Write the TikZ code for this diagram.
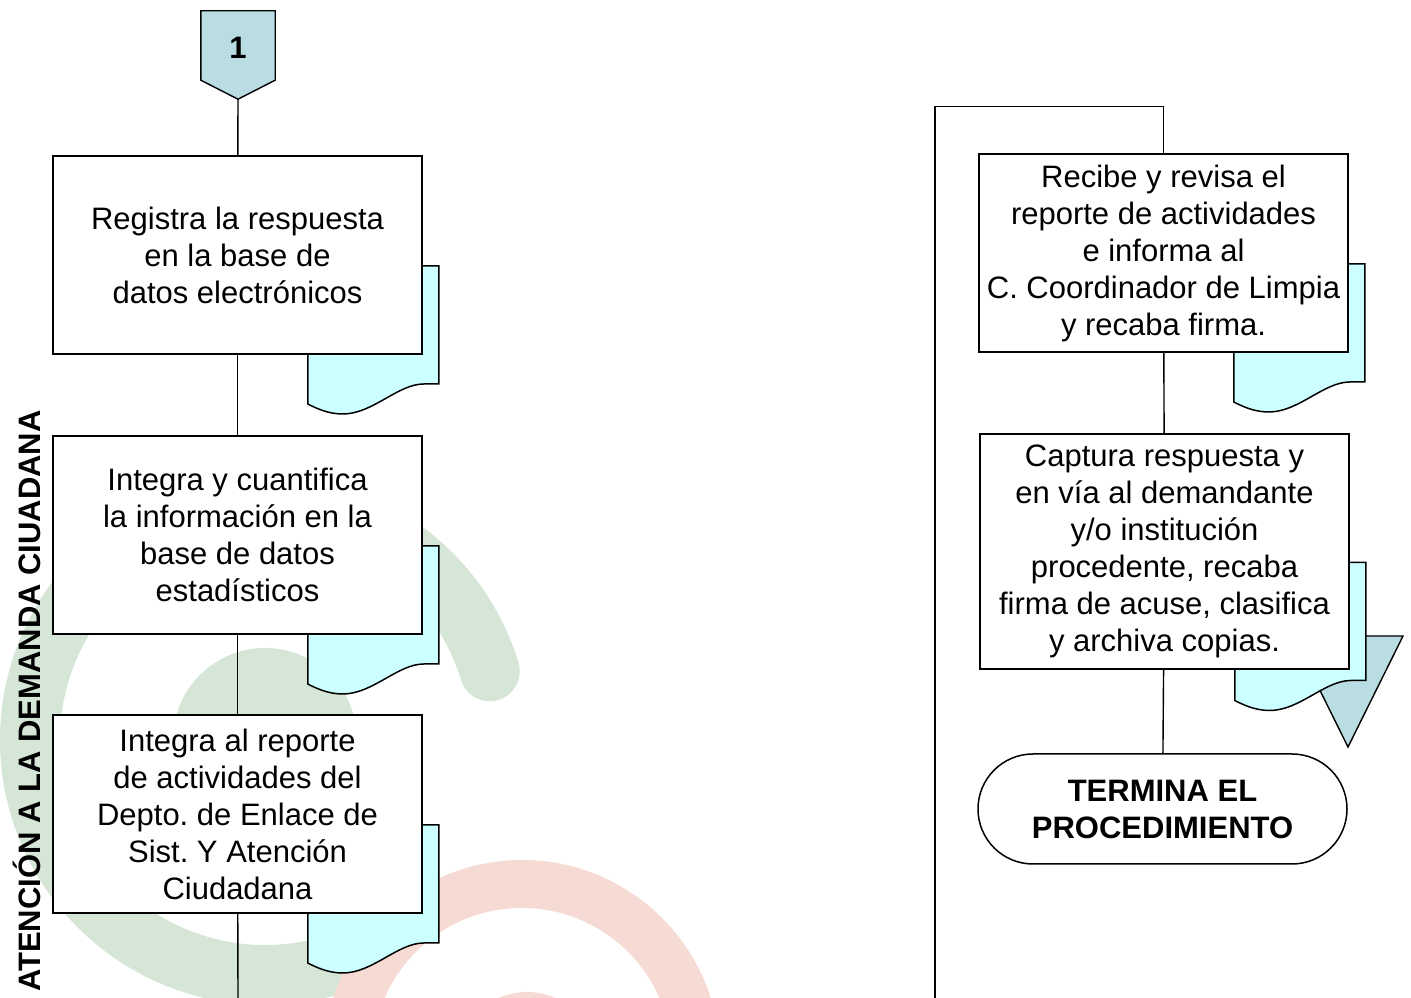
\documentclass[tikz,border=0pt]{standalone}
\usepackage{fontspec}
\setmainfont{Liberation Sans}
\frenchspacing
\usetikzlibrary{shapes.misc,calc}
\definecolor{docfill}{HTML}{CCFFFF}
\definecolor{conblue}{HTML}{B9DDE3}
\definecolor{wmgreen}{HTML}{D6E6D6}
\definecolor{wmred}{HTML}{F6DAD4}
\pgfdeclarelayer{wm}
\pgfdeclarelayer{bg}
\pgfsetlayers{wm,bg,main}
\tikzset{
  proc/.style={draw, fill=white, line width=1.5pt, minimum width=369pt, minimum height=198pt,
    inner sep=0pt, align=center, font=\fontsize{31}{37}\selectfont},
  term/.style={proc, rounded rectangle, minimum height=110pt, font=\fontsize{31}{37}\selectfont\bfseries},
  offpage/.style={minimum width=74pt, minimum height=69pt, inner sep=0pt, font=\fontsize{31}{37}\selectfont\bfseries},
  doc/.style={draw, fill=docfill, line width=1.5pt},
  link/.style={line width=1.4pt},
}
% document symbol behind a box
\newcommand{\docat}[1]{%
  \begin{scope}[shift={($(#1.east)+(-115,-11)$)}]
    \draw[doc] (0,0) -- (131,0) -- (131,-118) -- (116,-118)
      .. controls (90,-118) and (65,-148) .. (35,-148)
      .. controls (20,-148) and (8,-142) .. (0,-138) -- cycle;
  \end{scope}}
\begin{document}
\begin{tikzpicture}[x=1pt,y=1pt]
\useasboundingbox (0,0) rectangle (1411,998);
% watermark
\begin{pgfonlayer}{wm}
  \begin{scope}
    \clip (0,0) rectangle (1411,998);
    \draw[wmgreen, line width=60pt, line cap=round] (265,258) ++(17:235) arc[start angle=17, end angle=288, radius=235];
    \fill[wmgreen] (265,258) circle[radius=92];
    \draw[wmred, line width=48pt] (522,-60) circle[radius=174];
    \fill[wmred] (527,-64) circle[radius=70];
  \end{scope}
\end{pgfonlayer}

\node[rotate=90, font=\fontsize{31}{37}\selectfont\bfseries] (area) at (27,297) {ATENCIÓN A LA DEMANDA CIUADANA};

% left column
\node[offpage] (con1) at (238,950) {1};
\node[proc] (registra) at (237.5,743) {Registra la respuesta\\en la base de\\datos electrónicos};
\node[proc] (integra) at (237.5,463) {Integra y cuantifica\\la información en la\\base de datos\\estadísticos};
\node[proc] (reporte) at (237.5,184) {Integra al reporte\\de actividades del\\Depto. de Enlace de\\Sist. Y Atención\\Ciudadana};
\coordinate (salida) at (238,0);

% right column
\node[proc] (recibe) at (1163.5,745) {Recibe y revisa el\\reporte de actividades\\e informa al\\C. Coordinador de Limpia\\y recaba firma.};
\node[proc, minimum height=235pt] (captura) at (1164.5,446.5) {Captura respuesta y\\en vía al demandante\\y/o institución\\procedente, recaba\\firma de acuse, clasifica\\y archiva copias.};
\node[term] (termina) at (1162.5,189) {TERMINA EL\\PROCEDIMIENTO};
\coordinate (retorno) at (935,0);

\begin{pgfonlayer}{bg}
  \draw[link, fill=conblue] ($(con1.north west)+(0,2.5)$) -- ($(con1.north east)+(0,2.5)$) -- ($(con1.south east)+(0,2.5)$)
    -- ($(con1.south)+(0,-16.5)$) coordinate (con1tip) -- ($(con1.south west)+(0,2.5)$) -- cycle;
  \draw[link, fill=conblue] (1293,362) -- (1403,362) -- (1348,251) -- cycle;
  \docat{registra}
  \docat{integra}
  \docat{reporte}
  \docat{recibe}
  \docat{captura}
\end{pgfonlayer}

\draw[link] (con1tip) -- (registra);
\draw[link] (registra) -- (integra);
\draw[link] (integra) -- (reporte);
\draw[link] (reporte) -- (salida);
\draw[link] (retorno) |- ($(recibe.north)+(0,47)$) -- (recibe.north);
\draw[link] (recibe) -- (captura);
\draw[link] (captura) -- (termina);
\end{tikzpicture}
\end{document}
